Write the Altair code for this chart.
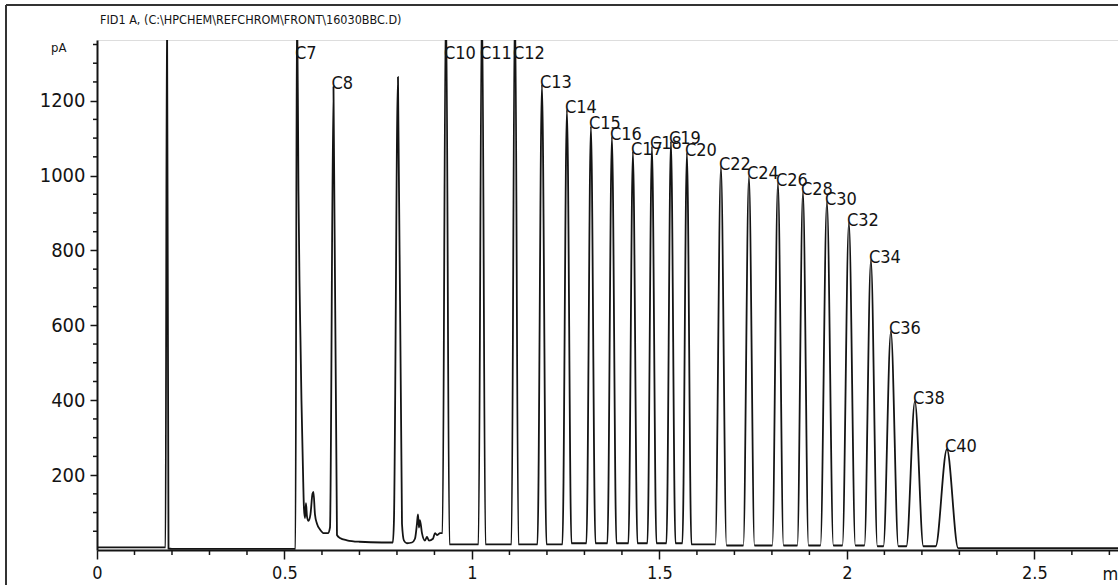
import altair as alt
import pandas as pd

NARROW = "DejaVu Sans Condensed, Liberation Sans Narrow, DejaVu Sans, sans-serif"
INK = "#141414"

TITLE = r"FID1 A, (C:\HPCHEM\REFCHROM\FRONT\16030BBC.D)"

# Peaks: retention time (min), apex (pA), half base width (min), valley level on each side (pA).
# Heights of 1500 run off the top of the 0-1362 pA window.
peak_names = ["", "C7", "C8", "", "C10", "C11", "C12", "C13", "C14", "C15", "C16",
              "C17", "C18", "C19", "C20", "C22", "C24", "C26", "C28", "C30", "C32",
              "C34", "C36", "C38", "C40"]
peak_times = [0.1867, 0.5333, 0.6307, 0.8027, 0.9307, 1.0267, 1.1147, 1.1867, 1.2533, 1.3173, 1.3733,
              1.4293, 1.4800, 1.5307, 1.5733, 1.6640, 1.7387, 1.8160, 1.8827, 1.9467, 2.0053,
              2.0640, 2.1173, 2.1813, 2.2667]
peak_heights = [1500, 1500, 1238, 1263, 1500, 1500, 1500, 1243, 1176, 1131, 1104,
                1064, 1078, 1091, 1061, 1024, 998, 981, 957, 930, 874,
                775, 584, 397, 269]
peak_halfwidths = [0.004, 0.004, 0.0093, 0.0107, 0.0093, 0.0093, 0.0093, 0.012, 0.012, 0.012, 0.012,
                   0.012, 0.012, 0.012, 0.012, 0.015, 0.015, 0.015, 0.015, 0.0173, 0.0173,
                   0.0173, 0.02, 0.0227, 0.03]
foot_left = [7, 3, 60, 80, 45, 15, 15, 15, 15, 18, 18,
             18, 18, 18, 18, 15, 12, 12, 12, 12, 12,
             12, 10, 10, 10]
foot_right = [4, 960, 40, 70, 15, 15, 15, 15, 18, 18, 18,
              18, 18, 18, 15, 12, 12, 12, 12, 12, 12,
              10, 10, 10, 5]

# Baseline and the irregular stretches (C7 tail, small peaks before C10)
extra_times = [0.0, 0.178, 0.20, 0.40, 0.52,
               0.5400, 0.5427, 0.5453, 0.5493, 0.5520, 0.5547, 0.5573, 0.5600, 0.5640,
               0.5693, 0.5747, 0.5773, 0.5813, 0.5867, 0.5947, 0.6053, 0.6160,
               0.6480, 0.6667, 0.7000, 0.7600, 0.7890,
               0.8187, 0.8267, 0.8400, 0.8480, 0.8533, 0.8560, 0.8587, 0.8613, 0.8667,
               0.8747, 0.8800, 0.8853, 0.8960, 0.9013, 0.9067, 0.9150,
               2.32, 2.723]
extra_pa = [7, 7, 3, 3, 3,
            720, 560, 400, 215, 110, 85, 125, 90, 78,
            95, 150, 155, 95, 70, 55, 45, 45,
            32, 26, 22, 20, 20,
            25, 18, 20, 30, 70, 95, 60, 80, 45,
            25, 35, 25, 30, 45, 40, 45,
            5, 5]

x_major = [0, 0.5, 1, 1.5, 2, 2.5]
y_major = [200, 400, 600, 800, 1000, 1200]
x_minor = [round(i * 0.1, 1) for i in range(1, 28) if i % 5]
y_minor = [v for v in range(50, 1400, 50) if v % 200]

X_MAX, Y_MAX = 2.723, 1362
W, H = 1021, 510

# trace vertices
rows = [{"t": t, "pa": v} for t, v in zip(extra_times, extra_pa)]
for t, h, w, fl, fr in zip(peak_times, peak_heights, peak_halfwidths, foot_left, foot_right):
    rows += [{"t": t - w, "pa": fl}, {"t": t, "pa": h}, {"t": t + w, "pa": fr}]
trace = pd.DataFrame(rows).sort_values("t").reset_index(drop=True)

labels = pd.DataFrame({
    "name": peak_names,
    "t": peak_times,
    "pa": [min(h, 1320) for h in peak_heights],
})
labels = labels[labels["name"] != ""]

xscale = alt.Scale(domain=[0, X_MAX], nice=False, zero=False)
yscale = alt.Scale(domain=[0, Y_MAX], nice=False)
xaxis = alt.Axis(values=x_major, format="~g", grid=False, tickSize=9, tickWidth=1.5,
                 tickColor=INK, domainColor=INK, domainWidth=2,
                 labelFont=NARROW, labelFontSize=18, labelColor=INK, labelPadding=5,
                 labelFlush=False, labelOverlap=False,
                 titleFont=NARROW, titleFontSize=18, titleFontWeight="normal", titleColor=INK,
                 titleX=1005, titleY=24, titleAlign="left", titleBaseline="middle")
yaxis = alt.Axis(values=y_major, format="d", grid=False, tickSize=7, tickWidth=1.5,
                 tickColor=INK, domainColor=INK, domainWidth=2,
                 labelFont=NARROW, labelFontSize=20, labelColor=INK, labelPadding=5,
                 labelOverlap=False,
                 titleFont=NARROW, titleFontSize=13, titleFontWeight="normal", titleColor=INK,
                 titleAngle=0, titleX=-31, titleY=7, titleAlign="right", titleBaseline="middle")

X = alt.X("t:Q", scale=xscale, axis=xaxis, title="min")
Y = alt.Y("pa:Q", scale=yscale, axis=yaxis, title="pA")

text_layer = alt.Chart(labels).mark_text(
    align="left", baseline="middle", dx=-2, dy=-2,
    font=NARROW, fontSize=18, color=INK
).encode(x=X, y=Y, text="name:N")

line_layer = alt.Chart(trace).mark_line(
    color=INK, strokeWidth=1.8, interpolate="monotone", clip=True
).encode(x=X, y=Y, order="t:Q")

x_minor_ticks = alt.Chart(pd.DataFrame({"t": x_minor})).mark_rule(
    color=INK, strokeWidth=1.5
).encode(x=X, y=alt.value(H), y2=alt.value(H + 5))

y_minor_ticks = alt.Chart(pd.DataFrame({"pa": y_minor})).mark_rule(
    color=INK, strokeWidth=1.5
).encode(y=Y, x=alt.value(-4), x2=alt.value(0))

frame_left = alt.Chart(pd.DataFrame({"k": [0]})).mark_rule(
    color="#333333", strokeWidth=2
).encode(x=alt.value(-91), y=alt.value(-35), y2=alt.value(H + 35))

frame_top = alt.Chart(pd.DataFrame({"k": [0]})).mark_rule(
    color="#333333", strokeWidth=2
).encode(x=alt.value(-91), x2=alt.value(W), y=alt.value(-35))

heading = alt.Chart(pd.DataFrame({"label": [TITLE]})).mark_text(
    align="left", baseline="middle", font=NARROW, fontSize=12.5, color=INK
).encode(x=alt.value(3), y=alt.value(-20), text="label:N")

chart = alt.layer(
    frame_left, frame_top, heading, x_minor_ticks, y_minor_ticks, text_layer, line_layer
).properties(
    width=W, height=H,
    autosize=alt.AutoSizeParams(type="none"),
    padding={"left": 97, "top": 40, "right": 0, "bottom": 35},
).configure_view(stroke=None).configure(background="white")

chart.save("out.html", embed_options={"renderer": "svg", "actions": False})
